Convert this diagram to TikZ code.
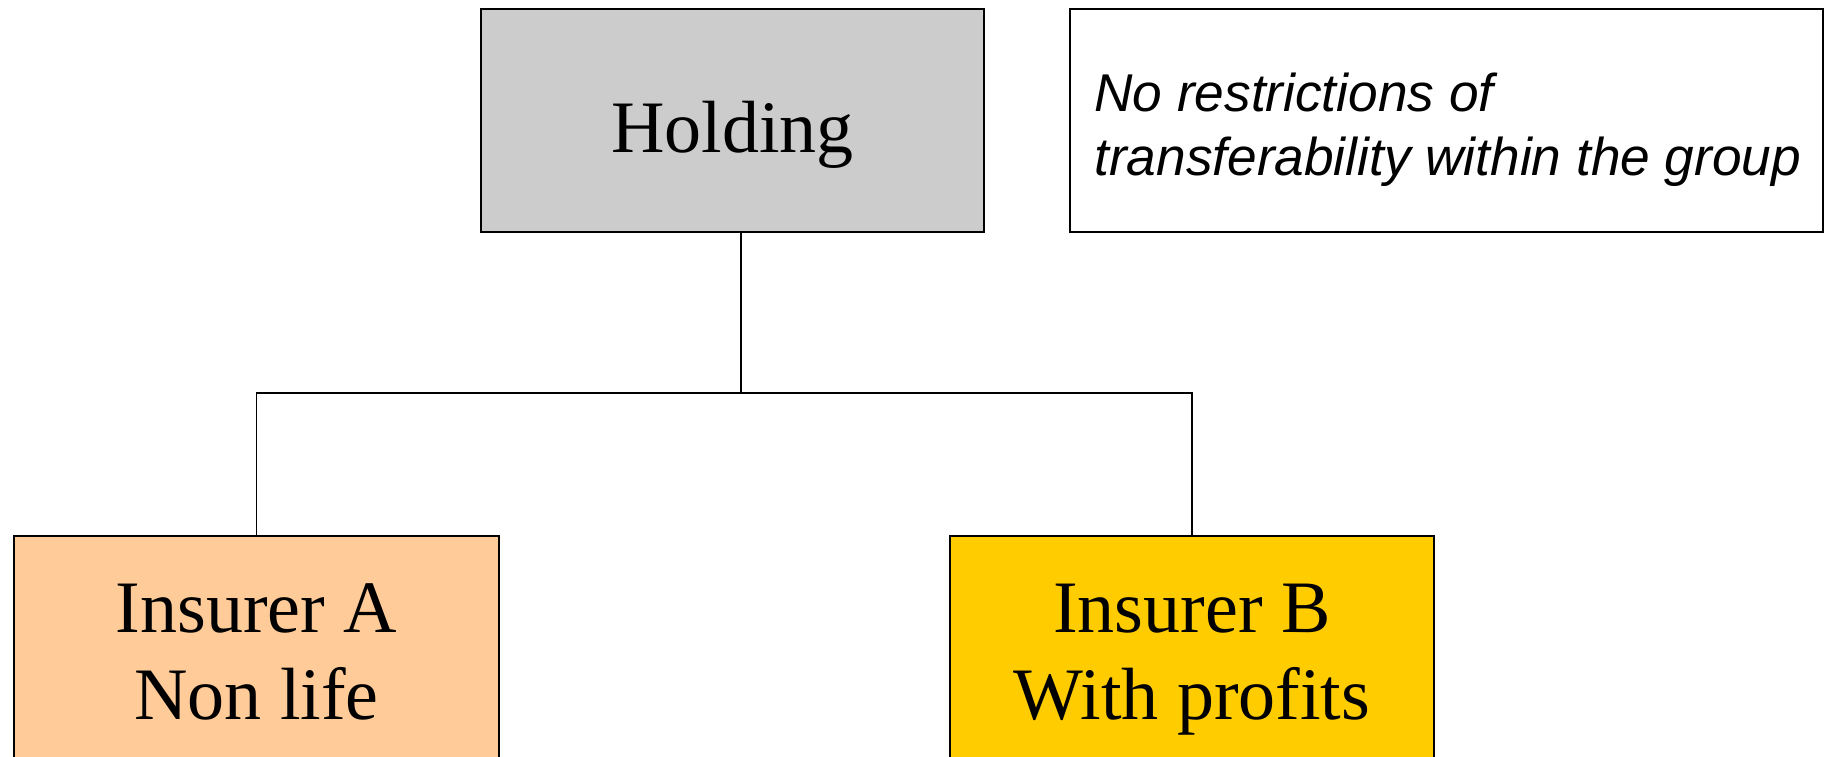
\documentclass[tikz,border=0pt]{standalone}
\usepackage{fontspec}
\setmainfont{Liberation Serif}
\newfontfamily\notefont{Liberation Sans}
\definecolor{holdgray}{HTML}{CCCCCC}
\definecolor{peach}{HTML}{FFCC99}
\definecolor{gold}{HTML}{FFCC00}
\tikzset{
  boxshape/.style={draw=black, line width=1pt, rectangle, inner sep=0pt},
  bigtext/.style={font=\fontsize{37pt}{40pt}\selectfont, anchor=base, inner sep=0pt},
  notetext/.style={font=\notefont\itshape\fontsize{26.6pt}{30pt}\selectfont, anchor=base west, inner sep=0pt},
  conn/.style={draw=black, line width=0.6pt}
}
\begin{document}
\begin{tikzpicture}[x=0.5pt,y=-0.5pt]
\useasboundingbox (0,0) rectangle (1828,756);
% Holding
\node[boxshape, fill=holdgray, minimum width=251.5pt, minimum height=111.5pt] (hold) at (732.5,120.5) {};
\node[bigtext] (holdt) at (732.5,152) {Holding};
% Note box
\node[boxshape, fill=white, minimum width=376.5pt, minimum height=111.5pt] (note) at (1446.5,120.5) {};
\node[notetext] (note1) at (1094,111) {No restrictions of};
\node[notetext] (note2) at (1094,175) {transferability within the group};
% Insurer A
\node[boxshape, fill=peach, minimum width=242.5pt, minimum height=125pt] (ia) at (256.5,661) {};
\node[bigtext] (ia1) at (256.5,632) {Insurer A};
\node[bigtext] (ia2) at (256.5,719) {Non life};
% Insurer B
\node[boxshape, fill=gold, minimum width=242pt, minimum height=125pt] (ib) at (1192,661) {};
\node[bigtext] (ib1) at (1192,632) {Insurer B};
\node[bigtext] (ib2) at (1192,719) {With profits};
% connectors
\coordinate (hs) at (741,232);
\coordinate (jn) at (741,393);
\draw[conn] (hs) -- (jn);
\draw[conn] (ia.north) |- (jn);
\draw[conn] (ib.north) |- (jn);
\end{tikzpicture}
\end{document}
